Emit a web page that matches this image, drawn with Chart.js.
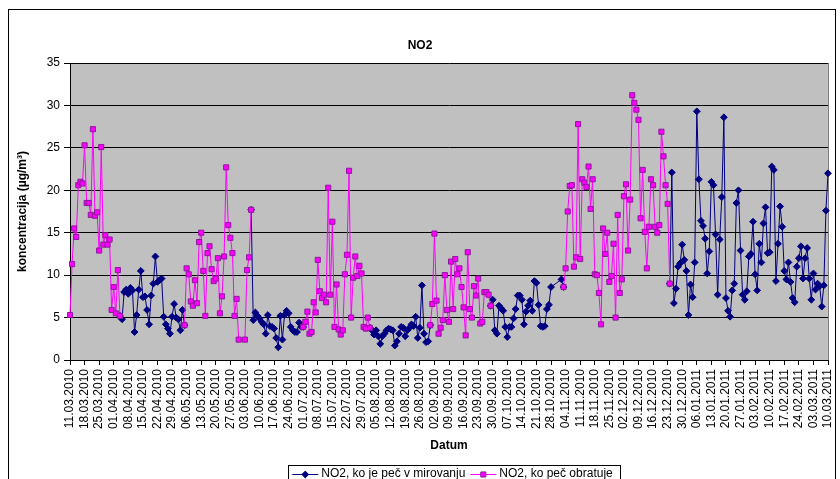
<!DOCTYPE html>
<html><head><meta charset="utf-8">
<script src="https://cdn.jsdelivr.net/npm/chart.js@4.4.0/dist/chart.umd.min.js"></script>
<style>html,body{margin:0;padding:0;background:#fff}</style>
</head><body>
<canvas id="c" width="840" height="479"></canvas>
<script>
const _ = null;
// first day of the daily series and number of days
const zacetek = [2010, 3, 11];
const steviloDni = 365;

// NO2, ko je peč v mirovanju (navy)
const pecMiruje = [
  _,_,_,_,_,_,_,_,_,_, _,_,_,_,_,_,_,_,_,_, _,_,_,_,_,
  4.8, 8.0, 8.3, 7.8, 8.5, 8.2, 3.3, 5.3, 8.3, 10.5, 7.4, 7.5, 5.9, 4.2, 7.6, 9.0, 12.2, 9.2, 9.4, 9.6, 5.1, 4.2, 3.7, 3.1, 5.1, 6.6, 5.0, 4.8, 3.5, 5.9, 4.1,
  _,_,_,_,_,_,_,_,_,_, _,_,_,_,_,_,_,_,_,_, _,_,_,_,_,_,_,_,_,_, _,_,
  4.7, 5.6, 5.2, 4.9, 4.5, 4.2, 3.1, 5.3, 4.0, 3.9, 3.7, 2.6, 1.5, 5.2, 2.4, 5.3, 5.8, 5.5, 3.9, 3.5, 3.3, 3.3, 4.4, 3.9, 3.9,
  _,_,_,_,_,_,_,_,_,_, _,_,_,_,_,_,_,_,_,_, _,_,_,_,_,_,_,_,_,_, _,_,
  3.5, 3.0, 3.5, 2.8, 1.9, 2.8, 3.1, 3.5, 3.7, 3.6, 3.5, 1.7, 2.2, 3.1, 3.9, 3.8, 2.8, 3.5, 3.8, 4.2, 4.0, 5.1, 2.6, 3.8, 8.8, 3.1, 2.1, 2.2, 4.1,
  _,_,_,_,_,_,_,_,_,_, _,_,_,_,_,_,_,_,_,_, _,_,_,_,_,_,_,_,_,
  7.1, 3.5, 3.1, 6.4, 6.1, 5.8, 3.9, 2.7, 3.9, 3.9, 4.9, 6.0, 7.6, 7.6, 7.1, 4.2, 5.7, 6.4, 7.0, 5.8, 9.3, 9.1, 6.5, 4.0, 3.9, 4.0, 6.0, 6.5, 8.6, _, _, _, _, 9.5, 8.6,
  _,_,_,_,_,_,_,_,_,_, _,_,_,_,_,_,_,_,_,_, _,_,_,_,_,_,_,_,_,_, _,_,_,_,_,_,_,_,_,_, _,_,_,_,_,_,_,_,_,_, _,
  22.1, 6.7, 8.4, 11.0, 11.4, 13.6, 11.8, 10.5, 5.3, 8.9, 7.4, 11.5,
  29.3, 21.3, 16.4, 15.8, 14.3, 10.2, 12.8, 21.0, 20.6, 14.8, 7.7, 14.2, 19.2, 28.6, 7.3, 5.8, 5.1, 8.2, 9.0, 18.5,
  20.0, 12.9, 7.7, 7.1, 8.1, 12.2, 12.5, 16.3, 10.1, 8.2, 13.7, 11.5, 16.1, 18.0, 12.6, 12.7, 22.8, 22.4, 9.3, 13.7,
  18.1, 15.7, 10.5, 9.5, 11.5, 9.2, 7.3, 6.8, 11.0, 12.0, 13.4, 9.6, 12.0, 13.2, 9.6, 7.1, 10.2, 8.3, 9.0, 8.7, 6.3, 8.8, 17.6, 22.0
];

// NO2, ko peč obratuje (magenta)
const pecObratuje = [
  5.3, 11.3, 15.5, 14.5, 20.6, 21.0, 20.8, 25.3, 18.5, 18.5, 17.1, 27.2, 17.0, 17.4, 12.9, 25.1, 13.6, 14.7, 13.6, 14.2, 5.9, 8.6, 5.5, 10.6, 5.2,
  _,_,_,_,_,_,_,_,_,_, _,_,_,_,_,_,_,_,_,_, _,_,_,_,_,_,_,_,_,_, _,
  10.8, 10.1, 6.9, 6.4, 9.4, 6.7, 13.9, 15.0, 10.5, 5.2, 12.6, 13.4, 10.7, 9.3, 9.6, 12.0, 5.5, 7.5, 12.2, 22.7, 15.9, 14.4, 12.6, 5.2, 7.2, 2.4, _, _, 2.4, 10.6, 12.1, 17.7,
  _,_,_,_,_,_,_,_,_,_, _,_,_,_,_,_,_,_,_,_, _,_,_,_,_,
  4.5, 5.7, 3.1, 3.3, 6.8, 5.6, 11.8, 8.1, 7.3, 7.7, 6.8, 20.3, 7.7, 16.3, 3.9, 8.9, 3.6, 3.0, 3.5, 10.1, 12.4, 22.3, 5.0, 9.7, 12.2, 9.9, 11.1, 10.2, 3.9, 3.7, 5.0, 3.8,
  _,_,_,_,_,_,_,_,_,_, _,_,_,_,_,_,_,_,_,_, _,_,_,_,_,_,_,_,_,
  6.6, 14.9, 7.0, 3.1, 3.8, 4.7, 10.0, 5.9, 4.5, 11.6, 6.0, 11.9, 10.1, 10.8, 8.6, 6.2, 2.9, 12.7, 6.0, 5.0, 8.7, 7.6, 9.6, 4.3, 4.5, 8.0, 8.0, 7.7, 6.4,
  _,_,_,_,_,_,_,_,_,_, _,_,_,_,_,_,_,_,_,_, _,_,_,_,_,_,_,_,_,_, _,_,_,_,_,
  10.8, 17.5, 20.5, 20.6, 11.0, 12.1, 27.8, 11.9, 21.3, 20.9, 20.4, 22.8, 17.8, 21.3, 10.1, 10.0, 7.9, 4.2, 15.5, 12.5,
  15.0, 9.2, 9.9, 13.7, 5.0, 17.1, 7.9, 9.5, 19.3, 20.7, 12.9, 18.9, 31.2, 30.3, 29.5, 28.3, 16.7, 22.4, 15.1, 10.8,
  15.7, 21.3, 20.6, 15.7, 15.0, 15.9, 26.9, 24.0, 20.6, 18.4, 9.0,
  _,_,_,_,_,_,_,_,_,_, _,_,_,_,_,_,_,_,_,_, _,_,_,_,_,_,_,_,_,_, _,_,_,_,_,_,_,_,_,_,
  _,_,_,_,_,_,_,_,_,_, _,_,_,_,_,_,_,_,_,_, _,_,_,_,_,_,_,_,_,_, _,_,_,_,_,_
];

const nazivi = ['NO2, ko je peč v mirovanju', 'NO2, ko peč obratuje'];
const barve = ['#000080', '#FF00FF'];

// daily date categories
const datumi = [];
for (let i = 0; i < steviloDni; i++) {
  const d = new Date(Date.UTC(zacetek[0], zacetek[1] - 1, zacetek[2] + i));
  datumi.push(String(d.getUTCDate()).padStart(2, '0') + '.' + String(d.getUTCMonth() + 1).padStart(2, '0') + '.' + d.getUTCFullYear());
}

// points of one series; it also carries the other series' value on the day
// before each of its runs, so the change-over segment gets the following colour
function tocke(own, other) {
  const out = [];
  own.forEach((v, i) => {
    if (v !== null) out.push({ x: datumi[i], y: v });
    else if (i + 1 < own.length && own[i + 1] !== null && other[i] !== null) out.push({ x: datumi[i], y: other[i] });
  });
  return out;
}

const FONT = 'Arial, "Liberation Sans", sans-serif';
Chart.defaults.font.family = FONT;
Chart.defaults.font.size = 12;
Chart.defaults.color = '#000';

const LEG_SHIFT = 4;
const SYM_W = 22;

const okvir = {
  id: 'okvir',
  afterUpdate(chart) {
    if (chart.legend) chart.legend._premik = false;
    const t = chart.titleBlock;
    if (t) { t.left += 6; t.right += 6; }
  },
  beforeDraw(chart) {
    const { ctx, chartArea: a } = chart;
    const lg = chart.legend;
    if (lg && !lg._premik) {
      lg.left += LEG_SHIFT; lg.right += LEG_SHIFT;
      (lg.legendHitBoxes || []).forEach(h => { h.left += LEG_SHIFT; });
      lg._premik = true;
    }
    ctx.save();
    ctx.fillStyle = '#fff';
    ctx.fillRect(0, 0, chart.width, chart.height);
    ctx.fillStyle = '#C0C0C0';
    ctx.fillRect(a.left, a.top, a.right - a.left, a.bottom - a.top);
    ctx.strokeStyle = '#000';
    ctx.lineWidth = 1;
    ctx.strokeRect(8.5, 9.5, 827, 480);
    ctx.restore();
  },
  beforeDatasetsDraw(chart) {
    const { ctx, chartArea: a } = chart;
    ctx.save();
    ctx.strokeStyle = '#808080';
    ctx.lineWidth = 1;
    ctx.beginPath();
    ctx.moveTo(Math.round(a.right) + 0.5, a.top);
    ctx.lineTo(Math.round(a.right) + 0.5, a.bottom);
    ctx.stroke();
    ctx.restore();
  },
  afterDraw(chart) {
    const { ctx } = chart;
    const lg = chart.legend;
    if (!lg || !lg.legendHitBoxes || !lg.legendHitBoxes.length) return;
    const hbs = lg.legendHitBoxes;
    ctx.save();
    let cyFirst = 0;
    hbs.forEach((hb, i) => {
      const ds = chart.data.datasets[lg.legendItems[i].datasetIndex];
      const cy = Math.round(hb.top + hb.height / 2) + 0.5;
      if (i === 0) cyFirst = cy;
      ctx.strokeStyle = ds.borderColor;
      ctx.lineWidth = 1;
      ctx.beginPath();
      ctx.moveTo(hb.left - 1, cy);
      ctx.lineTo(hb.left + SYM_W + 3, cy);
      ctx.stroke();
      ctx.fillStyle = ds.pointBackgroundColor;
      ctx.strokeStyle = ds.pointBorderColor;
      Chart.helpers.drawPoint(ctx, { pointStyle: ds.pointStyle, radius: ds.pointRadius, borderWidth: 1, rotation: 0 }, hb.left + SYM_W / 2 + 1, cy);
    });
    const first = hbs[0], last = hbs[hbs.length - 1];
    const x0 = Math.round(first.left - 5) + 0.5;
    const x1 = Math.round(last.left + last.width + 7) + 0.5;
    const y0 = cyFirst - 9;
    ctx.strokeStyle = '#000';
    ctx.lineWidth = 1;
    ctx.strokeRect(x0, y0, x1 - x0, 19);
    ctx.restore();
  }
};

new Chart(document.getElementById('c'), {
  type: 'line',
  data: {
    labels: datumi,
    datasets: [
      {
        label: nazivi[0],
        data: tocke(pecMiruje, pecObratuje),
        borderColor: barve[0], backgroundColor: barve[0],
        pointStyle: 'rectRot', pointRadius: 3.4, pointBorderWidth: 1,
        pointBackgroundColor: barve[0], pointBorderColor: barve[0],
        borderWidth: 1, tension: 0, spanGaps: 6, clip: false, order: 1
      },
      {
        label: nazivi[1],
        data: tocke(pecObratuje, pecMiruje),
        borderColor: barve[1], backgroundColor: barve[1],
        pointStyle: 'rect', pointRadius: 3.6, pointBorderWidth: 1,
        pointBackgroundColor: barve[1], pointBorderColor: '#8A1A9A',
        borderWidth: 1, tension: 0, spanGaps: 6, clip: false, order: 0
      }
    ]
  },
  options: {
    responsive: false,
    animation: false,
    devicePixelRatio: 1,
    layout: { padding: { left: 0, right: 12, top: 0, bottom: -11 } },
    plugins: {
      title: {
        display: true, text: 'NO2',
        font: { size: 12, weight: 'bold', family: FONT }, color: '#000',
        padding: { top: 38, bottom: 10.6 }
      },
      legend: {
        display: true, position: 'bottom', fullSize: false,
        labels: {
          boxWidth: SYM_W, boxHeight: 12, padding: 6, color: '#000',
          font: { size: 12, family: FONT },
          sort: (a, b) => a.datasetIndex - b.datasetIndex,
          generateLabels(chart) {
            const items = Chart.defaults.plugins.legend.labels.generateLabels(chart);
            items.forEach(it => { it.fillStyle = 'rgba(0,0,0,0)'; it.strokeStyle = 'rgba(0,0,0,0)'; it.lineWidth = 0; });
            return items;
          }
        }
      },
      tooltip: { enabled: false }
    },
    scales: {
      x: {
        type: 'category', offset: false,
        grid: { drawOnChartArea: false, drawTicks: true, tickLength: 5, color: '#000' },
        border: { color: '#000', width: 1 },
        afterBuildTicks: axis => { axis.ticks = axis.ticks.filter(t => t.value % 7 === 0); },
        ticks: {
          autoSkip: false, minRotation: 90, maxRotation: 90, padding: 4, color: '#000',
          font: { size: 12, family: FONT },
          callback(v) { return this.getLabelForValue(v); }
        },
        title: { display: true, text: 'Datum', font: { size: 12, weight: 'bold', family: FONT }, color: '#000', padding: { top: 0, bottom: 9 } },
        afterFit: axis => { axis.height = 102; axis.paddingLeft = 0; axis.paddingRight = 0; }
      },
      y: {
        min: 0, max: 35,
        grid: { color: '#000', lineWidth: 1, tickLength: 6, drawTicks: true },
        border: { color: '#000', width: 1 },
        ticks: { stepSize: 5, padding: 4, color: '#000', font: { size: 12, family: FONT } },
        title: { display: true, text: 'koncentracija (µg/m³)', font: { size: 12, weight: 'bold', family: FONT }, color: '#000', padding: { top: 15, bottom: 0 } },
        afterFit: axis => { axis.width = 70; }
      }
    }
  },
  plugins: [okvir]
});
</script>
</body></html>
